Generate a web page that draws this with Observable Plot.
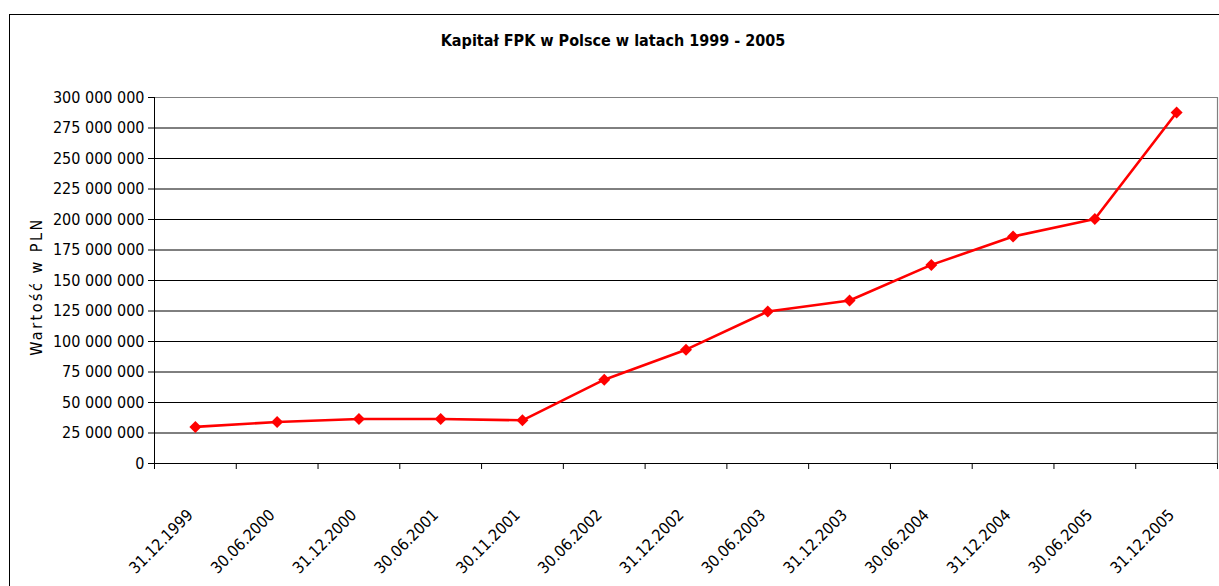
<!DOCTYPE html>
<html><head><meta charset="utf-8">
<script src="https://cdn.jsdelivr.net/npm/d3@7"></script>
<script src="https://cdn.jsdelivr.net/npm/@observablehq/plot@0.6"></script>
<style>
body{margin:0;background:#fff;}
#wrap{position:relative;width:1219px;height:586px;overflow:hidden;font-family:"DejaVu Sans Condensed","DejaVu Sans",sans-serif;}
#frame{position:absolute;left:9px;top:14px;width:1400px;height:800px;border:1px solid #000;box-sizing:border-box;pointer-events:none;}
#title{position:absolute;left:0;width:1226px;top:31px;text-align:center;font-weight:bold;font-size:16px;font-family:"DejaVu Sans Condensed","DejaVu Sans",sans-serif;}
#chart{position:absolute;left:0;top:0;}
</style></head>
<body><div id="wrap"><div id="frame"></div><div id="title"></div><div id="chart"></div></div>
<script>
const dates = ["31.12.1999","30.06.2000","31.12.2000","30.06.2001","30.11.2001","30.06.2002","31.12.2002","30.06.2003","31.12.2003","30.06.2004","31.12.2004","30.06.2005","31.12.2005"];
const values = [30000000, 34000000, 36500000, 36500000, 35400000, 68700000, 93300000, 124600000, 133600000, 162800000, 186000000, 200400000, 287700000];
const yTicks = [0, 25000000, 50000000, 75000000, 100000000, 125000000, 150000000, 175000000, 200000000, 225000000, 250000000, 275000000, 300000000];
const yTitle = "Wartość w PLN";
const chartTitle = "Kapitał FPK w Polsce w latach 1999 - 2005";

document.getElementById("title").textContent = chartTitle;
const idx = dates.map((d, i) => i);
const edges = dates.map((d, i) => i - 0.5).concat([dates.length - 0.5]);
const fmt = d3.formatLocale({decimal: ",", thousands: " ", grouping: [3], currency: ["", ""]}).format(",d");
const yMax = yTicks[yTicks.length - 1];

const chart = Plot.plot({
  width: 1219,
  height: 586,
  marginLeft: 154,
  marginRight: 2,
  marginTop: 97,
  marginBottom: 123,
  style: {fontFamily: "'DejaVu Sans Condensed','DejaVu Sans',sans-serif", fontSize: "16px", color: "#000", background: "transparent"},
  x: {type: "linear", domain: [edges[0], edges[edges.length - 1]]},
  y: {domain: [0, yMax]},
  marks: [
    Plot.gridY(yTicks.slice(0, -1), {stroke: "#000", strokeOpacity: 1}),
    Plot.ruleY([yMax], {stroke: "#808080", strokeWidth: 1.2}),
    Plot.ruleX([edges[edges.length - 1]], {stroke: "#808080", strokeWidth: 1.2}),
    Plot.ruleX([edges[0]], {stroke: "#000"}),
    Plot.ruleY([0], {stroke: "#000"}),
    Plot.axisY({ticks: yTicks, tickFormat: fmt, tickSize: 6, tickPadding: 4, label: null, fontSize: 16}),
    Plot.axisX({ticks: edges, tickFormat: () => "", tickSize: 6, label: null}),
    Plot.text(idx, {x: d => d, text: d => dates[d], frameAnchor: "bottom", rotate: -45, textAnchor: "end", lineAnchor: "middle", dx: -5, dy: 49, fontSize: 16}),
    Plot.text([yTitle], {text: d => d, frameAnchor: "left", rotate: -90, textAnchor: "middle", lineAnchor: "middle", dx: -118, dy: 6, fontSize: 16}),
    Plot.line(idx, {x: d => d, y: d => values[d], stroke: "#ff0000", strokeWidth: 2.6}),
    Plot.dot(idx, {x: d => d, y: d => values[d], symbol: "diamond2", r: 5.4, fill: "#ff0000", stroke: "none"})
  ]
});
d3.select(chart).selectAll("text").filter(function() { return this.textContent === yTitle; }).style("letter-spacing", "2.5px");
document.getElementById("chart").appendChild(chart);
</script>
</body></html>
